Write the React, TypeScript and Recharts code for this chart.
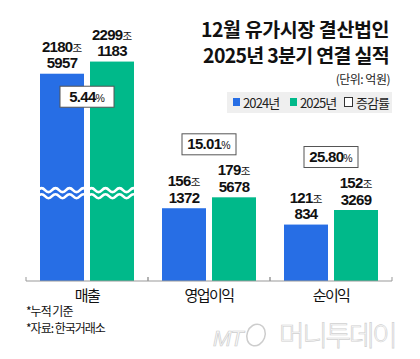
import React from 'react';
import { BarChart, Bar, XAxis, YAxis, LabelList } from 'recharts';

// ---- data (억원) ----
const categories = ['매출', '영업이익', '순이익'];
const values2024 = [21805957, 1561372, 1210834];
const values2025 = [22991183, 1795678, 1523269];
const growthRates = [5.44, 15.01, 25.8];
const brokenAxis = [true, false, false];
const seriesNames = ['2024년', '2025년'];

const title1 = '12월 유가시장 결산법인';
const title2 = '2025년 3분기 연결 실적';
const unitText = '(단위: 억원)';
const notes = ['*누적 기준', '*자료: 한국거래소'];

// ---- styles ----
const BLUE = '#276EE5';
const GREEN = '#00B98A';
const KR = '"Noto Sans CJK KR", "Noto Sans", sans-serif';
const NUM = '"Liberation Sans", Arial, sans-serif';

// broken-axis compression for very large values (in 조)
const BREAK_START = 2000;
const BREAK_BASE = 405;
const BREAK_RATIO = 0.22;
const WAVE_UNITS = [195, 182];

const toJo = (v: number) => v / 10000;
const toDisplay = (v: number, broken: boolean) =>
  broken ? BREAK_BASE + (toJo(v) - BREAK_START) * BREAK_RATIO : toJo(v);

const data = categories.map((name, i) => ({
  name,
  raw2024: values2024[i],
  raw2025: values2025[i],
  d2024: toDisplay(values2024[i], brokenAxis[i]),
  d2025: toDisplay(values2025[i], brokenAxis[i]),
  growth: growthRates[i],
  broken: brokenAxis[i],
}));

const wavePath = (x0: number, x1: number, yc: number) => {
  const wl = 14;
  const amp = 2;
  let d = `M${x0 - 2},${yc}`;
  let x = x0 - 2;
  let up = true;
  while (x < x1 + 2) {
    const nx = x + wl / 2;
    d += ` Q${x + wl / 4},${yc + (up ? -amp * 2 : amp * 2)} ${nx},${yc}`;
    x = nx;
    up = !up;
  }
  return d;
};

const makeShape = (key: 'd2024' | 'd2025', color: string) => (props: any) => {
  const { x, y, width, height, payload } = props;
  if (!height || height <= 0) return <g />;
  const bottom = y + height;
  const ppu = height / payload[key];
  return (
    <g>
      <rect x={x} y={y} width={width} height={height} fill={color} />
      {payload.broken &&
        WAVE_UNITS.map((u, i) => (
          <path
            key={i}
            d={wavePath(x, x + width, bottom - u * ppu)}
            stroke="#fff"
            strokeWidth={2.6}
            fill="none"
          />
        ))}
    </g>
  );
};

const ValueLabel = (props: any) => {
  const { x, y, width, value } = props;
  if (value == null) return null;
  const jo = Math.floor(value / 10000);
  const eok = value % 10000;
  const cx = x + width / 2;
  return (
    <g>
      <text x={cx} y={y - 22} textAnchor="middle" fill="#111" fontFamily={NUM} fontWeight={700} fontSize={15} letterSpacing={-0.7}>
        <tspan>{jo}</tspan>
        <tspan fontFamily={KR} fontWeight={400} fontSize={10.5} letterSpacing={0}>조</tspan>
      </text>
      <text x={cx} y={y - 5.5} textAnchor="middle" fill="#111" fontFamily={NUM} fontWeight={700} fontSize={15} letterSpacing={-0.7}>
        {eok}
      </text>
    </g>
  );
};

const GrowthBox = (props: any) => {
  const { x, y, height, value } = props;
  const row = data.find((r) => r.name === value);
  if (!row || !height) return null;
  const ppu = height / row.d2025;
  const bottom = y + height;
  const top2024 = bottom - row.d2024 * ppu;
  const top2025 = y;
  const cx = x - 3;
  const cy = row.broken ? top2024 + 23 : Math.min(top2024, top2025) - 53;
  const w = 54;
  const h = 21;
  return (
    <g>
      <rect x={cx - w / 2} y={cy - h / 2} width={w} height={h} fill="#fff" stroke="#555" strokeWidth={1} />
      <text x={cx} y={cy + 5} textAnchor="middle" fill="#111" fontFamily={NUM} fontWeight={700} fontSize={15} letterSpacing={-0.7}>
        <tspan>{row.growth.toFixed(2)}</tspan>
        <tspan fontSize={10.5} fontWeight={400} letterSpacing={0}>%</tspan>
      </text>
    </g>
  );
};

const CategoryTick = (props: any) => {
  const { x, y, payload } = props;
  const half = 61;
  return (
    <g>
      <line x1={x - half} x2={x - half} y1={y - 4} y2={y} stroke="#999" />
      <line x1={x + half} x2={x + half} y1={y - 4} y2={y} stroke="#999" />
      <text x={x} y={y + 20} textAnchor="middle" fill="#111" fontFamily={KR} fontSize={15} letterSpacing={-1.6}>
        {payload.value}
      </text>
    </g>
  );
};

export default function App() {
  return (
    <div style={{ position: 'absolute', left: 0, top: 0, width: 420, height: 359, background: '#fff', overflow: 'hidden' }}>
      <BarChart
        width={420}
        height={359}
        data={data}
        margin={{ top: 20, right: 28, left: 26, bottom: 0 }}
        barSize={44}
        barGap={6}
      >
        <YAxis hide domain={[0, 560]} />
        <XAxis
          dataKey="name"
          height={78}
          tickSize={0}
          tickMargin={0}
          tickLine={false}
          axisLine={{ stroke: '#999' }}
          tick={<CategoryTick />}
          interval={0}
        />
        <Bar dataKey="d2024" name={seriesNames[0]} fill={BLUE} isAnimationActive={false} shape={makeShape('d2024', BLUE)}>
          <LabelList dataKey="raw2024" content={<ValueLabel />} />
        </Bar>
        <Bar dataKey="d2025" name={seriesNames[1]} fill={GREEN} isAnimationActive={false} shape={makeShape('d2025', GREEN)}>
          <LabelList dataKey="raw2025" content={<ValueLabel />} />
          <LabelList dataKey="name" content={<GrowthBox />} />
        </Bar>
      </BarChart>
      <svg width={420} height={359} style={{ position: 'absolute', left: 0, top: 0, pointerEvents: 'none' }}>
        <text x={389} y={37} textAnchor="end" fontFamily={KR} fontWeight={700} fontSize={19.5} letterSpacing={-0.4} fill="#111">{title1}</text>
        <text x={389} y={63} textAnchor="end" fontFamily={KR} fontWeight={700} fontSize={19.5} letterSpacing={-0.7} fill="#111">{title2}</text>
        <text x={390} y={84} textAnchor="end" fontFamily={KR} fontSize={12} letterSpacing={-0.5} fill="#222">{unitText}</text>
        <rect x={227} y={92} width={165} height={21} fill="#efefef" />
        <rect x={233} y={98} width={7} height={8} fill={BLUE} />
        <text x={243} y={107.5} fontFamily={KR} fontSize={13} letterSpacing={-0.9} fill="#222">{seriesNames[0]}</text>
        <rect x={290} y={98} width={7} height={8} fill={GREEN} />
        <text x={300} y={107.5} fontFamily={KR} fontSize={13} letterSpacing={-0.9} fill="#222">{seriesNames[1]}</text>
        <rect x={344.5} y={97.5} width={8} height={9} fill="#fff" stroke="#333" strokeWidth={1} />
        <text x={356} y={107.5} fontFamily={KR} fontSize={13} letterSpacing={-0.9} fill="#222">증감률</text>
        <text x={26} y={316} fontFamily={KR} fontSize={12} letterSpacing={-1} fill="#111">{notes[0]}</text>
        <text x={26} y={333} fontFamily={KR} fontSize={12} letterSpacing={-1} fill="#111">{notes[1]}</text>
        <text x={213} y={346} fontFamily={NUM} fontStyle="italic" fontSize={22} letterSpacing={-1} fill="#fbfbfb" stroke="#cdcdcd" strokeWidth={0.7}>MT</text>
        <ellipse cx={256} cy={335} rx={9} ry={11} transform="rotate(20 256 335)" fill="none" stroke="#cdcdcd" strokeWidth={1.5} />
        <text x={279} y={346} fontFamily={KR} fontWeight={300} fontSize={28} letterSpacing={-2.5} fill="#fbfbfb" stroke="#d0d0d0" strokeWidth={0.7}>머니투데이</text>
      </svg>
    </div>
  );
}
